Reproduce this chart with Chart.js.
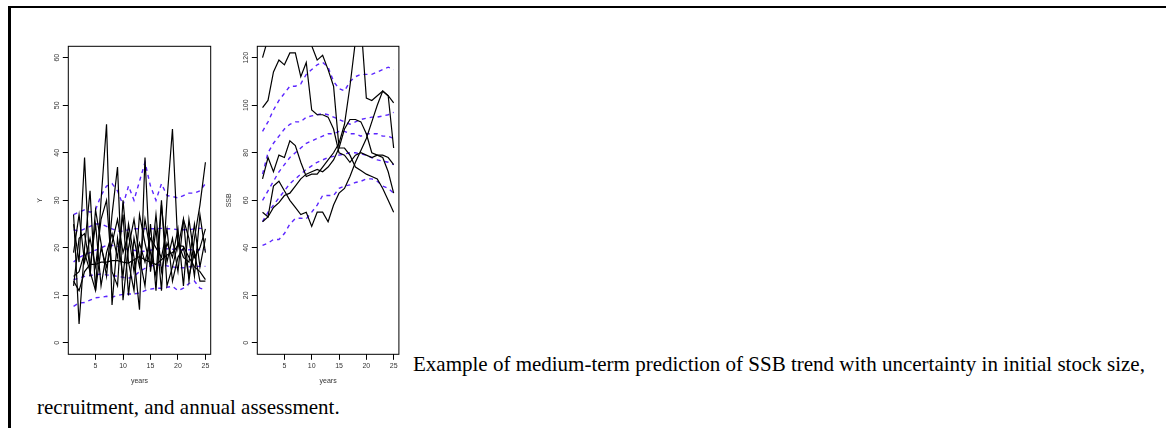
<!DOCTYPE html>
<html>
<head>
<meta charset="utf-8">
<script src="https://cdn.jsdelivr.net/npm/chart.js@4"></script>
<style>
  body { margin: 0; background: #fff; width: 1166px; height: 428px; overflow: hidden; position: relative; }
  #frame { position: absolute; left: 8px; top: 6px; right: 0; bottom: 0; border-top: 2px solid #000; border-left: 3px solid #000; }
  .plot { position: absolute; top: 40px; width: 195px; height: 355px; }
  #p1 { left: 20px; }
  #p2 { left: 209.4px; }
  .cap { position: absolute; font-family: "Liberation Serif", "Times New Roman", serif; font-size: 21px; line-height: 21px; white-space: nowrap; color: #000; }
</style>
</head>
<body>
<div id="frame"></div>
<div class="plot" id="p1"><canvas id="chartY"></canvas></div>
<div class="plot" id="p2"><canvas id="chartSSB"></canvas></div>
<div class="cap" style="left:413px; top:354px;">Example of medium-term prediction of SSB trend with uncertainty in initial stock size,</div>
<div class="cap" style="left:37px; top:397px;">recruitment, and annual assessment.</div>

<script>
// years on the x axis
const years = [1,2,3,4,5,6,7,8,9,10,11,12,13,14,15,16,17,18,19,20,21,22,23,24,25];
const xTicks = [5, 10, 15, 20, 25];

// left panel: Y (recruitment) -- individual runs
const yTicks = [0, 10, 20, 30, 40, 50, 60];
const yRun1 = [27, 4, 20, 32, 11, 30, 46, 8, 22, 14, 25, 18, 7, 39, 15, 24, 11, 30, 45, 20, 26, 13, 22, 29, 38];
const yRun2 = [25, 17, 39, 14, 28, 21, 14, 27, 37, 9, 20, 26, 18, 12, 25, 11, 29, 17, 22, 15, 26, 22, 14, 27, 19];
const yRun3 = [19, 27, 17, 22, 16, 26, 30, 15, 12, 30, 17, 11, 27, 21, 16, 27, 15, 21, 18, 24, 12, 26, 18, 20, 24];
const yRun4 = [12, 22, 23, 16, 25, 12, 19, 23, 18, 27, 10, 22, 16, 26, 19, 14, 30, 12, 16, 21, 18, 17, 25, 16, 22];
const yRun5 = [14, 15, 19, 15, 11, 20, 16, 21, 26, 19, 23, 15, 21, 17, 22, 20, 18, 24, 13, 18, 20, 14, 19, 13, 13];
const yRun6 = [13, 11, 15, 16.5, 16.5, 17, 17, 17.3, 17.3, 17, 16.8, 17.5, 18.2, 17.5, 17, 16.5, 17.5, 18.5, 19, 20.5, 20.3, 18, 16, 15, 13.3];
// left panel: percentiles (dashed)
const yQ05 = [7.7, 8.4, 8.5, 9, 9.5, 9.6, 9.8, 9.6, 10, 10.2, 10.3, 10.3, 10.5, 11, 11.3, 11.5, 11.5, 11.7, 11.9, 11, 11.5, 12.5, 13, 11.5, 11.2];
const yQ25 = [13.3, 13.6, 14, 14.2, 14.3, 14.5, 14.3, 14.2, 14, 13.8, 13.6, 14, 15, 15.7, 16.2, 16.4, 16.4, 16.2, 16, 15.8, 15.8, 16, 16.1, 16.1, 16.1];
const yQ50 = [17, 18, 18.5, 19, 19.5, 20, 20.5, 20.5, 20.3, 20, 19.6, 19.5, 19.2, 19.3, 19.5, 19.8, 19.9, 19.8, 19.7, 19.6, 19.6, 19.6, 19.6, 19.6, 19.6];
const yQ75 = [23.8, 23.5, 24, 24.5, 25, 25, 24.5, 24, 23.5, 23.5, 23.8, 24, 24, 24, 24, 24, 24.1, 24, 24, 23.8, 23.8, 23.8, 24, 24.1, 24.1];
const yQ95 = [27, 27.5, 28, 27.5, 28, 31, 33, 33.5, 32, 29, 33, 30, 34, 38, 33, 30, 33.5, 31, 30.8, 30.5, 31, 31.5, 31.5, 32, 33.5];

// right panel: SSB -- individual runs
const ssbTicks = [0, 20, 40, 60, 80, 100, 120];
const ssbRun1 = [120, 128, 135, 139, 136, 133, 136, 131, 129, 125, 119, 121, 115, 108, 82, 82, 79, 74, 72.5, 71, 70, 69, 65, 60, 55];
const ssbRun2 = [99, 102, 114, 119, 117, 122, 122, 112, 118, 98, 96, 96, 95, 90, 80, 79, 76, 79, 80, 79, 78, 79, 79, 78, 75];
const ssbRun3 = [69, 78, 72, 79, 78, 85, 83, 76, 70, 71, 71, 74, 77, 80, 84, 92, 108, 127, 135, 103, 102, 104, 106, 104, 101];
const ssbRun4 = [55, 53, 66, 68, 64, 60, 57, 54, 55, 49, 55, 55, 51, 58, 63, 65, 70, 76, 81, 86, 93, 100, 106, 104, 82];
const ssbRun5 = [51, 53, 57, 59, 62, 63, 66, 69, 71, 72, 73, 72, 74, 77, 82, 90, 94, 94, 93, 88, 80, 79, 78, 72, 63];
// right panel: percentiles (dashed)
const ssbQ05 = [41, 42, 43.5, 43.5, 46, 50, 52.3, 52.5, 52.2, 55, 58, 62, 62, 62, 65, 66, 66.5, 67.5, 68, 69, 69, 68, 66, 65, 63];
const ssbQ25 = [51, 55, 58, 61, 64, 67, 69, 71, 73, 74.5, 76, 77, 78, 78.5, 79, 79.5, 80, 80, 79.5, 79, 78, 77, 76.5, 76, 75];
const ssbQ50 = [60, 64, 68, 72, 75, 78, 80, 82, 84, 85, 86, 87, 88, 88, 89, 89, 88, 88, 87, 88, 88, 88, 87, 87, 86];
const ssbQ75 = [71, 80, 84, 87, 90, 92, 93, 93, 95, 95.5, 96, 96.5, 96, 95, 94, 93, 92, 93, 94, 94.5, 95, 95, 95.5, 96, 97];
const ssbQ95 = [89, 93, 98, 102, 105, 108, 108, 109, 113, 115, 117, 118, 116, 110, 107, 106, 110, 112, 113, 113, 113, 114, 115, 116, 115];

const BLUE = "#5b25ff";
const tickFont = { family: "Liberation Sans, Arial, sans-serif", size: 7 };

function runSet(vals) {
  return { data: years.map((x, i) => ({ x: x, y: vals[i] })), borderColor: "#000", borderWidth: 1.2, pointRadius: 0, tension: 0, clip: 0 };
}
function pctSet(vals) {
  return { data: years.map((x, i) => ({ x: x, y: vals[i] })), borderColor: BLUE, borderWidth: 1.4, borderDash: [4, 4], pointRadius: 0, tension: 0, clip: 0 };
}

// box round the plot region, and y labels rotated like R draws them
const rBox = {
  id: "rBox",
  afterDraw(chart) {
    const ctx = chart.ctx;
    const a = chart.chartArea;
    const ys = chart.scales.y;
    ctx.save();
    ctx.strokeStyle = "#000";
    ctx.lineWidth = 1;
    ctx.strokeRect(a.left, a.top, a.right - a.left, a.bottom - a.top);
    ctx.fillStyle = "#333";
    ctx.font = "7px 'Liberation Sans', Arial, sans-serif";
    ctx.textAlign = "center";
    ctx.textBaseline = "middle";
    ys.ticks.forEach(t => {
      const py = ys.getPixelForValue(t.value);
      ctx.save();
      ctx.translate(a.left - 11.5, py);
      ctx.rotate(-Math.PI / 2);
      ctx.fillText(String(t.value), 0, 0);
      ctx.restore();
    });
    ctx.restore();
  }
};

function makeChart(id, yTitle, yTickVals, runs, pcts, padRight) {
  const yMin = yTickVals[0], yMax = yTickVals[yTickVals.length - 1];
  const ext = (yMax - yMin) * 0.04;
  new Chart(document.getElementById(id).getContext("2d"), {
    type: "line",
    data: { datasets: runs.map(runSet).concat(pcts.map(pctSet)) },
    plugins: [rBox],
    options: {
      responsive: true,
      maintainAspectRatio: false,
      animation: false,
      layout: { padding: { top: 6.3, left: 16, right: padRight, bottom: 10 } },
      plugins: { legend: { display: false }, tooltip: { enabled: false } },
      scales: {
        x: {
          type: "linear",
          min: 1 - 0.96,
          max: 25 + 0.96,
          afterBuildTicks: s => { s.ticks = xTicks.map(v => ({ value: v })); },
          afterFit: s => { s.height = 30.7; },
          ticks: { font: tickFont, color: "#333", padding: 2, maxRotation: 0 },
          grid: { drawOnChartArea: false, drawTicks: true, tickLength: 5.5, color: "#000", lineWidth: 1 },
          border: { display: false },
          title: { display: true, text: "years", font: tickFont, color: "#333", padding: 0 }
        },
        y: {
          type: "linear",
          min: yMin - ext,
          max: yMax + ext,
          afterBuildTicks: s => { s.ticks = yTickVals.map(v => ({ value: v })); },
          afterFit: s => { s.width = 32.3; },
          ticks: { display: false },
          grid: { drawOnChartArea: false, drawTicks: true, tickLength: 5.5, color: "#000", lineWidth: 1 },
          border: { display: false },
          title: { display: true, text: yTitle, font: tickFont, color: "#333", padding: 0 }
        }
      }
    }
  });
}

makeChart("chartY", "Y", yTicks,
  [yRun1, yRun2, yRun3, yRun4, yRun5, yRun6],
  [yQ05, yQ25, yQ50, yQ75, yQ95], 4.3);
makeChart("chartSSB", "SSB", ssbTicks,
  [ssbRun1, ssbRun2, ssbRun3, ssbRun4, ssbRun5],
  [ssbQ05, ssbQ25, ssbQ50, ssbQ75, ssbQ95], 5.1);
</script>
</body>
</html>
